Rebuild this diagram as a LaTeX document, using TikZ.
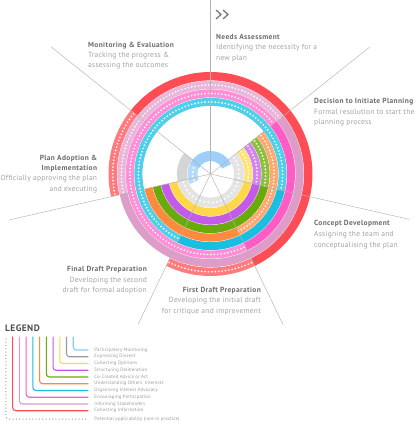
\documentclass[tikz,border=0pt]{standalone}
\usepackage{fontspec}
\newfontfamily\lbl{PT Sans}[LetterSpace=3]
\newfontfamily\lblt{PT Sans}[LetterSpace=5]
\definecolor{rd}{HTML}{FF4D55}\definecolor{rdl}{HTML}{FF7B7D}
\definecolor{mv}{HTML}{DE9CC8}\definecolor{mvl}{HTML}{E9B7D9}
\definecolor{pk}{HTML}{FF5CC6}\definecolor{pkl}{HTML}{FF8FD6}
\definecolor{cy}{HTML}{19BEE0}\definecolor{cyl}{HTML}{4FD0EA}
\definecolor{cor}{HTML}{FF8A3D}\definecolor{corl}{HTML}{FFA872}
\definecolor{gn}{HTML}{6BAA0C}\definecolor{gnl}{HTML}{8DC040}
\definecolor{pu}{HTML}{C35BE8}\definecolor{pul}{HTML}{D585F0}
\definecolor{ye}{HTML}{FFD84A}\definecolor{yel}{HTML}{FFE27A}
\definecolor{gr}{HTML}{D5D5D5}\definecolor{grl}{HTML}{E4E4E4}
\definecolor{lb}{HTML}{9DCFF8}\definecolor{lbl}{HTML}{B5DBFA}
\definecolor{grleg}{HTML}{9B9B9B}\definecolor{lbleg}{HTML}{8CC8F5}
\definecolor{ttlc}{HTML}{6B6B6B}\definecolor{dscc}{HTML}{A3A3A3}
\definecolor{lgtc}{HTML}{9A9A9A}\definecolor{spk}{HTML}{B4B4B4}
\newcommand{\ringseg}[5]{%
  \fill[#1] (#4:#3pt) arc[start angle=#4, end angle=#5, radius=#3pt]
    -- (#5:#2pt) arc[start angle=#5, end angle=#4, radius=#2pt] -- cycle;}
\newcommand{\dotseg}[7]{% color r1 r2 a b dotsize spacing
  \ringseg{#1}{#2}{#3}{#4}{#5}%
  \pgfmathsetmacro\rmid{(#2+#3)/2}%
  \draw[white, line width=#6pt, line cap=round, dash pattern=on 0pt off #7pt, dash phase=-1.7pt]
    (#4:\rmid pt) arc[start angle=#4, end angle=#5, radius=\rmid pt];}
\tikzset{
  ttl/.style={font=\lblt\bfseries\fontsize{7.4}{8}\selectfont, text=ttlc, inner sep=0pt},
  dsc/.style={font=\lbl\fontsize{7.5}{8}\selectfont, text=dscc, inner sep=0pt},
  lgt/.style={font=\lbl\fontsize{4.8}{5}\selectfont, text=lgtc, inner sep=0pt, anchor=west},
  spoke/.style={spk, line width=0.45pt},
  legline/.style={line width=1.1pt, rounded corners=3pt}
}
\begin{document}
\begin{tikzpicture}[x=1pt,y=1pt]
\useasboundingbox (-210.5,-251) rectangle (208.5,174);
\fill[white] (-210.5,-251) rectangle (208.5,174);
% red
\ringseg{rd}{93.6}{102}{141.4286}{-64.2857}
\dotseg{rdl}{93.6}{102}{-64.2857}{-115.7143}{1.9}{3.4}
\dotseg{rdl}{93.6}{102}{-167.1429}{-218.5714}{1.9}{3.4}
% mauve
\ringseg{mv}{85.1}{93.1}{38.5714}{-167.1429}
\dotseg{mvl}{85.1}{93.1}{-167.1429}{-321.4286}{1.9}{3.4}
% pink
\ringseg{pk}{76.6}{84.6}{38.5714}{-64.2857}
\dotseg{pkl}{76.6}{84.6}{-64.2857}{-321.4286}{1.9}{3.4}
% cyan
\ringseg{cy}{68.1}{76.1}{-12.8571}{-115.7143}
\dotseg{cyl}{68.1}{76.1}{-115.7143}{-372.8571}{1.9}{3.4}
% orange
\dotseg{corl}{59.6}{67.6}{38.5714}{-64.2857}{1.9}{3.4}
\ringseg{cor}{59.6}{67.6}{-64.2857}{-167.1429}
% green
\dotseg{gnl}{51.1}{59.1}{38.5714}{-12.8571}{1.9}{3.4}
\ringseg{gn}{51.1}{59.1}{-12.8571}{-167.1429}
% purple
\dotseg{pul}{42.6}{50.6}{38.5714}{-12.8571}{1.9}{3.4}
\ringseg{pu}{42.6}{50.6}{-12.8571}{-167.1429}
% yellow
\dotseg{yel}{34.1}{42.1}{38.5714}{-12.8571}{1.9}{3.4}
\ringseg{ye}{34.1}{42.1}{-12.8571}{-167.1429}
% gray
\dotseg{grl}{23.6}{33.6}{38.5714}{-167.1429}{2.3}{4.3}
\ringseg{gr}{23.6}{33.6}{-167.1429}{-218.5714}
% light blue
\ringseg{lb}{13}{23}{154.2857}{25.7143}
\dotseg{lbl}{13}{23}{205.7143}{154.2857}{2.2}{4.2}
% spokes
\coordinate (c) at (0,0);
\coordinate (e1) at (90:174);
\coordinate (e2) at (38.5714:204);
\coordinate (e3) at (-12.8571:204);
\coordinate (e4) at (-64.2857:167);
\coordinate (e5) at (-115.7143:167);
\coordinate (e6) at (-167.1429:206);
\coordinate (e7) at (141.4286:204);
\foreach \e in {e1,e2,e3,e4,e5,e6,e7} \draw[spoke] (c) -- (\e);
% chevrons
\draw[ttlc!90, line width=1.3pt] (5.5,164) -- (10.5,159.5) -- (5.5,155);
\draw[ttlc!90, line width=1.3pt] (12.5,164) -- (17.5,159.5) -- (12.5,155);
% labels
\node[ttl, anchor=base west] (na1) at (5.5,134.5) {Needs Assessment};
\node[dsc, anchor=base west] (na2) at (5.5,124) {Identifying the necessity for a};
\node[dsc, anchor=base west] (na3) at (5.5,113.5) {new plan};
\node[ttl, anchor=base west] (me1) at (-122.5,126.7) {Monitoring \& Evaluation};
\node[dsc, anchor=base west] (me2) at (-122.5,116.5) {Tracking the progress \&};
\node[dsc, anchor=base west] (me3) at (-122.5,106) {assessing the outcomes};
\node[ttl, anchor=base west] (di1) at (103.5,70.3) {Decision to Initiate Planning};
\node[dsc, anchor=base west] (di2) at (103.5,59.5) {Formal resolution to start the};
\node[dsc, anchor=base west] (di3) at (103.5,49) {planning process};
\node[ttl, anchor=base west] (cd1) at (103.5,-52) {Concept Development};
\node[dsc, anchor=base west] (cd2) at (103.5,-62.5) {Assigning the team and};
\node[dsc, anchor=base west] (cd3) at (103.5,-73) {conceptualising the plan};
\node[ttl, anchor=base east] (fd1) at (50.5,-118) {First Draft Preparation};
\node[dsc, anchor=base east] (fd2) at (50.5,-128.5) {Developing the initial draft};
\node[dsc, anchor=base east] (fd3) at (50.5,-139) {for critique and improvement};
\node[ttl, anchor=base east] (fn1) at (-63.5,-97.5) {Final Draft Preparation};
\node[dsc, anchor=base east] (fn2) at (-63.5,-108) {Developing the second};
\node[dsc, anchor=base east] (fn3) at (-63.5,-118.5) {draft for formal adoption};
\node[ttl, anchor=base east] (pa1) at (-113.2,13.3) {Plan Adoption \&};
\node[ttl, anchor=base east] (pa2) at (-113.2,3.3) {Implementation};
\node[dsc, anchor=base east] (pa3) at (-113.2,-7) {Officially approving the plan};
\node[dsc, anchor=base east] (pa4) at (-113.2,-17.5) {and executing};
% legend
\node[font=\lblt\bfseries\fontsize{9.3}{10}\selectfont, text=black!70, inner sep=0pt, anchor=base west] (lg) at (-205.5,-157) {LEGEND};
\foreach \i/\c/\t in {1/rd/Collecting Information,2/mv/Informing Stakeholders,3/pk/Encouraging Participation,4/cy/Organising Interest Advocacy,5/cor/Understanding Others' Interests,6/gn/Co-Created Advice or Act,7/pu/Structuring Deliberation,8/ye/Collecting Opinions,9/grleg/Expressing Dissent,10/lbleg/Participatory Monitoring}{
  \pgfmathsetmacro\lx{-197.8+6.73*(\i-1)}
  \pgfmathsetmacro\ly{-236.7+6.74*(\i-1)}
  \draw[legline, \c] (\lx,-162.7) -- (\lx,\ly) -- (-122.2,\ly);
  \node[lgt] (l\i) at (-116.2,\ly) {\t};
}
\draw[grleg, line width=1pt, dash pattern=on 1pt off 2.3pt, rounded corners=3pt] (-204.5,-164.3) -- (-204.5,-245) -- (-122.2,-245);
\node[lgt] (l0) at (-116.2,-245) {Potential applicability (rare in practice)};
\end{tikzpicture}
\end{document}
